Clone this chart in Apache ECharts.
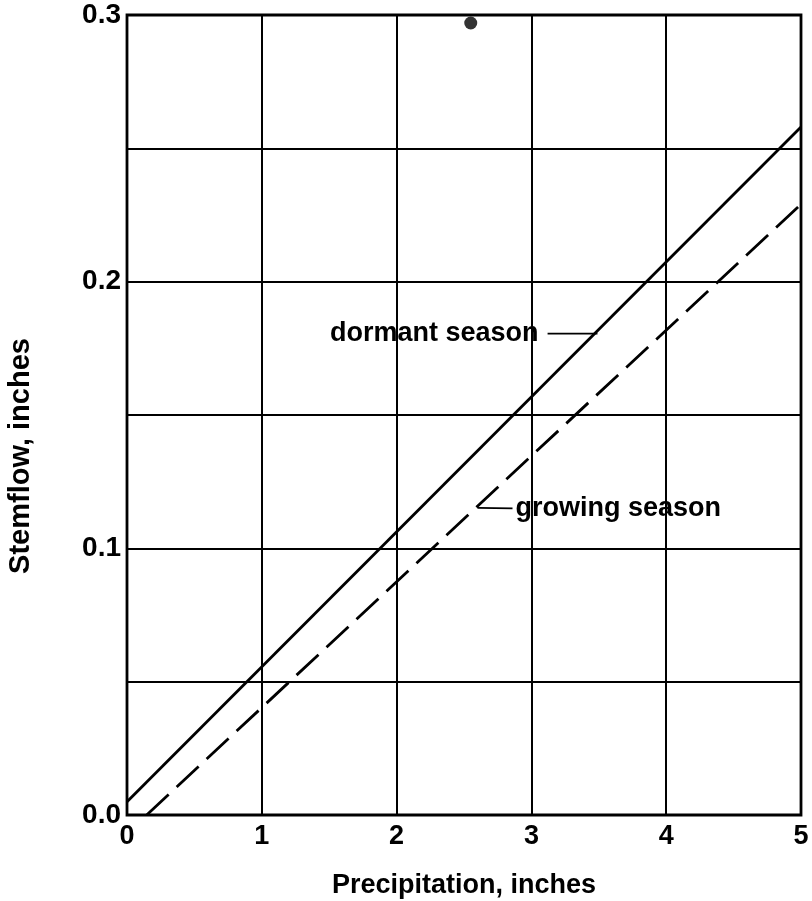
<!DOCTYPE html>
<html>
<head>
<meta charset="utf-8">
<script src="https://cdn.jsdelivr.net/npm/echarts@6/dist/echarts.min.js"></script>
<style>html,body{margin:0;padding:0;background:#fff}#c{width:812px;height:901px}</style>
</head>
<body>
<div id="c"></div>
<script>
// ---- data ----
var xTicks = [0, 1, 2, 3, 4, 5];
var yTickLabels = ['0.0', '0.1', '0.2', '0.3'];
var dormantSeason = [[0, 0.005], [5, 0.258]];
var growingSeason = [[0.146, 0], [5, 0.229]];
var observedPoint = [[2.55, 0.297]];
var dormantLeader = [[3.12, 0.1805], [3.49, 0.1805]];
var growingLeader = [[2.60, 0.1152], [2.86, 0.1150]];
var dormantText = 'dormant season';
var growingText = 'growing season';
var xTitle = 'Precipitation, inches';
var yTitle = 'Stemflow, inches';

var FONT = 'Liberation Sans';
var chart = echarts.init(document.getElementById('c'), null, {renderer: 'canvas'});

function leader(data, text, which) {
  return {
    type: 'line', data: data, symbol: 'none', silent: true, z: 4,
    lineStyle: {color: '#000', width: 1.8},
    label: {show: false},
    markPoint: {
      symbol: 'circle', symbolSize: 0,
      data: [{
        coord: data[which === 'left' ? 0 : 1],
        label: {
          show: true, formatter: text, position: which,
          distance: which === 'left' ? 9 : 3,
          color: '#000', fontFamily: FONT, fontWeight: 'bold', fontSize: 27
        }
      }]
    }
  };
}

chart.setOption({
  backgroundColor: '#fff',
  animation: false,
  grid: {left: 127, right: 11, top: 15, bottom: 86, show: true, containLabel: false,
         outerBoundsMode: 'none',
         borderColor: '#000', borderWidth: 2.8, backgroundColor: 'transparent'},
  xAxis: {
    type: 'value', min: 0, max: 5, interval: 1,
    axisLine: {show: false}, axisTick: {show: false},
    splitLine: {show: true, lineStyle: {color: '#000', width: 2}},
    axisLabel: {color: '#000', fontFamily: FONT, fontWeight: 'bold', fontSize: 27, margin: 8,
      formatter: function (v) { return xTicks.indexOf(v) >= 0 ? String(v) : ''; }},
    name: xTitle, nameLocation: 'middle', nameGap: 57,
    nameTextStyle: {color: '#000', fontFamily: FONT, fontWeight: 'bold', fontSize: 27}
  },
  yAxis: {
    type: 'value', min: 0, max: 0.3, interval: 0.05,
    axisLine: {show: false}, axisTick: {show: false},
    splitLine: {show: true, lineStyle: {color: '#000', width: 2}},
    axisLabel: {color: '#000', fontFamily: FONT, fontWeight: 'bold', fontSize: 28, margin: 6,
      formatter: function (v) {
        var k = Math.round(v * 20);
        return (k % 2 === 0) ? yTickLabels[k / 2] : '';
      }},
    name: yTitle, nameLocation: 'middle', nameGap: 92, nameRotate: 90,
    nameTextStyle: {color: '#000', fontFamily: FONT, fontWeight: 'bold', fontSize: 29,
      padding: [0, 0, 0, -82]}
  },
  series: [
    {type: 'line', name: 'dormant season', data: dormantSeason, symbol: 'none', z: 5,
     lineStyle: {color: '#000', width: 2.8}},
    {type: 'line', name: 'growing season', data: growingSeason, symbol: 'none', z: 5,
     lineStyle: {color: '#000', width: 2.8, type: [30, 11]}},
    {type: 'scatter', data: observedPoint, symbol: 'circle', symbolSize: 13, z: 6,
     itemStyle: {color: '#000'}},
    leader(dormantLeader, dormantText, 'left'),
    leader(growingLeader, growingText, 'right')
  ]
});
</script>
</body>
</html>
